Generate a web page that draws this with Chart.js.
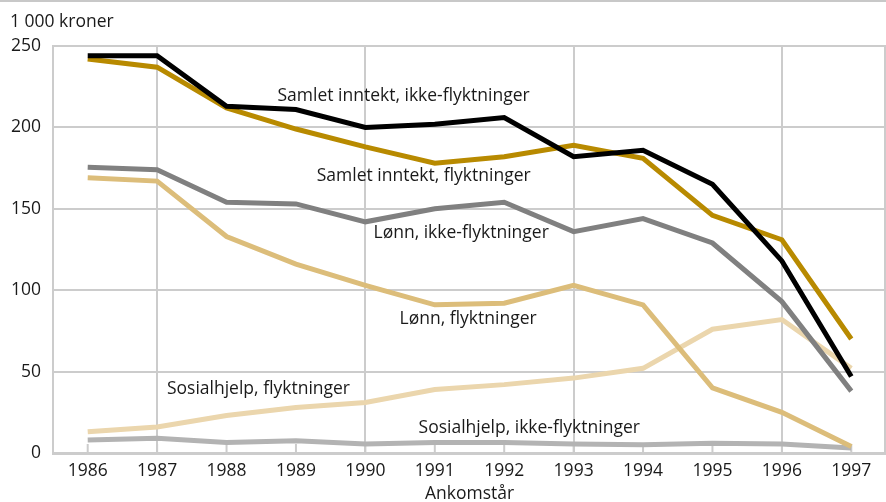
<!DOCTYPE html>
<html>
<head>
<meta charset="utf-8">
<script src="https://cdn.jsdelivr.net/npm/chart.js@4"></script>
<style>
  html, body { margin: 0; padding: 0; background: #fff; }
  #wrap { width: 886px; height: 502px; }
</style>
</head>
<body>
<div id="wrap"><canvas id="chart" width="886" height="502"></canvas></div>
<script>
// årstall og serier (1 000 kroner), lest av figuren
const years = ['1986', '1987', '1988', '1989', '1990', '1991', '1992', '1993', '1994', '1995', '1996', '1997'];
const samletIkkeFlykt = [244, 244, 213, 211, 200, 202, 206, 182, 186, 165, 118, 47];
const samletFlykt = [242, 237, 212, 199, 188, 178, 182, 189, 181, 146, 131, 70];
const lonnIkkeFlykt = [175.5, 174, 154, 153, 142, 150, 154, 136, 144, 129, 93, 38];
const lonnFlykt = [169, 167, 133, 116, 103, 91, 92, 103, 91, 40, 25, 4];
const sosialFlykt = [13, 16, 23, 28, 31, 39, 42, 46, 52, 76, 82, 52];
const sosialIkkeFlykt = [8, 9, 6.5, 7.5, 5.5, 6.5, 6.5, 5.5, 5, 6, 5.5, 3];

// etiketter ved linjene: tekst, x (årsindeks), y (verdi)
const labelTexts = ['Samlet inntekt, ikke-flyktninger', 'Samlet inntekt, flyktninger', 'Lønn, ikke-flyktninger', 'Lønn, flyktninger', 'Sosialhjelp, flyktninger', 'Sosialhjelp, ikke-flyktninger'];
const labelX = [4.55, 4.84, 5.38, 5.48, 2.46, 6.36];
const labelY = [219, 170, 135, 82.5, 39, 15.5];

const FONT = '"Open Sans", "Noto Sans", sans-serif';
const SIZE = 17.5;
const TEXT = '#1a1a1a';
const GRID = '#cccccc';

const extras = {
  id: 'extras',
  beforeDatasetsDraw(chart) {
    const { ctx, chartArea, scales: { x } } = chart;
    ctx.save();
    ctx.strokeStyle = GRID;
    ctx.lineWidth = 2;
    years.forEach((_, i) => {
      const px = x.getPixelForValue(i);
      ctx.beginPath();
      ctx.moveTo(px, chartArea.bottom);
      ctx.lineTo(px, chartArea.bottom - 9);
      ctx.stroke();
    });
    ctx.beginPath();
    ctx.moveTo(chartArea.right - 1, chartArea.top);
    ctx.lineTo(chartArea.right - 1, chartArea.bottom);
    ctx.stroke();
    ctx.restore();
  },
  afterDatasetsDraw(chart) {
    const { ctx, scales: { x, y } } = chart;
    ctx.save();
    ctx.font = SIZE + 'px ' + FONT;
    ctx.fillStyle = TEXT;
    ctx.textAlign = 'center';
    ctx.textBaseline = 'middle';
    labelTexts.forEach((t, i) => {
      ctx.fillText(t, x.getPixelForValue(labelX[i]), y.getPixelForValue(labelY[i]));
    });
    // enhet og linje øverst
    ctx.textAlign = 'left';
    ctx.fillText('1 000 kroner', 10, 22);
    ctx.fillStyle = '#c8c8c8';
    ctx.fillRect(0, 0, chart.width, 2);
    ctx.restore();
  }
};

function line(data, color) {
  return {
    data,
    borderColor: color,
    backgroundColor: color,
    borderWidth: 5,
    pointRadius: 0,
    tension: 0,
    fill: false
  };
}

new Chart(document.getElementById('chart'), {
  type: 'line',
  data: {
    labels: years,
    datasets: [
      line(samletIkkeFlykt, '#000000'),
      line(samletFlykt, '#b88a00'),
      line(lonnIkkeFlykt, '#808080'),
      line(lonnFlykt, '#dcbd7a'),
      line(sosialFlykt, '#ebd6ad'),
      line(sosialIkkeFlykt, '#b3b3b3')
    ]
  },
  options: {
    responsive: false,
    animation: false,
    layout: { padding: { top: 46, right: 0, bottom: 0, left: 0 } },
    plugins: { legend: { display: false }, tooltip: { enabled: false } },
    scales: {
      x: {
        offset: true,
        afterFit: s => { s.height = 49; },
        grid: {
          offset: false,
          drawTicks: false,
          lineWidth: 2,
          color: c => [1, 4, 7, 10].includes(c.index) ? GRID : 'rgba(0,0,0,0)'
        },
        border: { color: GRID, width: 3 },
        ticks: { color: TEXT, font: { family: FONT, size: SIZE }, padding: 8, maxRotation: 0 },
        title: { display: true, text: 'Ankomstår', color: TEXT, font: { family: FONT, size: SIZE }, padding: { top: 0, bottom: -3 } }
      },
      y: {
        min: 0,
        max: 250,
        afterFit: s => { s.width = 53; },
        grid: { color: GRID, lineWidth: 2, drawTicks: false },
        border: { color: GRID, width: 2 },
        ticks: { stepSize: 50, color: TEXT, font: { family: FONT, size: SIZE }, padding: 12 }
      }
    }
  },
  plugins: [extras]
});
</script>
</body>
</html>
